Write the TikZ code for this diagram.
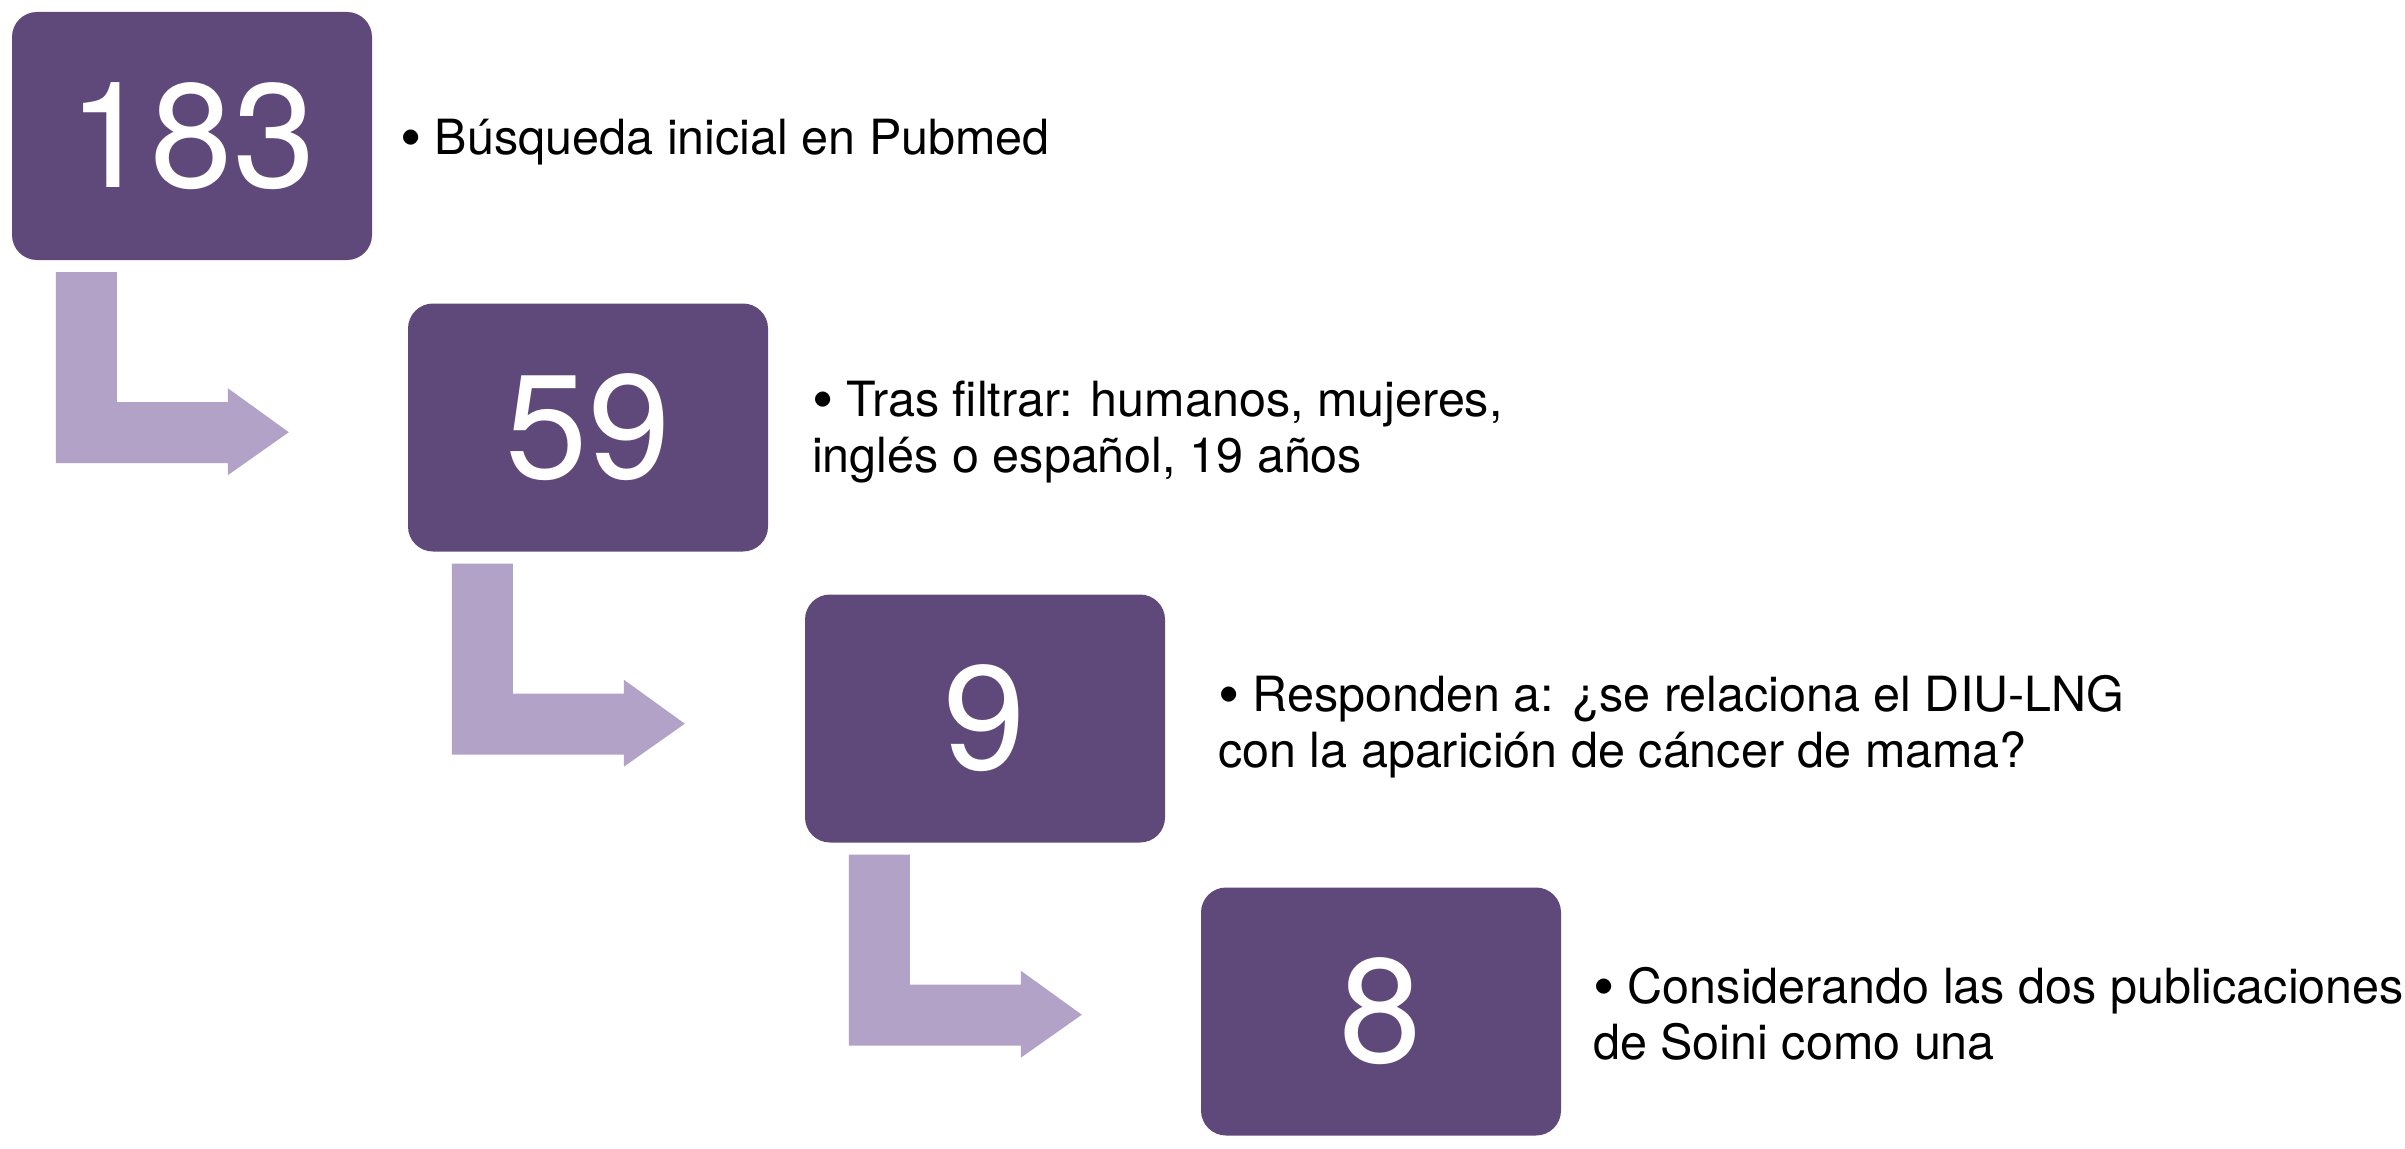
\documentclass[tikz,border=0pt]{standalone}
\usepackage{fontspec}
\usepackage{graphicx}
\setmainfont{TeX Gyre Heros}
\definecolor{boxpurple}{HTML}{5F497A}
\definecolor{arrowlilac}{HTML}{B2A2C7}
\newcommand\bigbul{\raisebox{-4pt}{\scalebox{1.25}{•}}}
\tikzset{
  numbox/.style={fill=boxpurple, rounded corners=25pt, minimum width=360pt, minimum height=248pt,
    inner sep=0pt, text=white, font=\fontsize{148}{150}\selectfont},
  txt/.style={anchor=base west, inner sep=0pt, text=black, font=\fontsize{48.5}{56}\selectfont},
  bentarrow/.pic={\fill[arrowlilac] (44,12) -- (105,12) -- (105,142) -- (216,142) -- (216,128)
      -- (277,172) -- (216,215) -- (216,203) -- (44,203) -- cycle;}
}
\begin{document}
\begin{tikzpicture}[x=1pt,y=-1pt]
\useasboundingbox (0,0) rectangle (2405,1148);
\node[numbox] (b1) at (192,136) {183};
\node[numbox] (b2) at (588,427.5) {59};
\node[numbox] (b3) at (985,718.5) {9};
\node[numbox] (b4) at (1381,1011.5) {8};
\pic at (b1.south west) {bentarrow};
\pic at (b2.south west) {bentarrow};
\pic at (b3.south west) {bentarrow};
\node[txt] (t1) at (400,154) {\bigbul{} Búsqueda inicial en Pubmed};
\node[txt] (t2) at (812,416.7) {\vtop{\hbox{\bigbul{} Tras filtrar: humanos, mujeres,}\hbox{inglés o español, 19 años}}};
\node[txt] (t3) at (1218,711) {\vtop{\hbox{\bigbul{} Responden a: ¿se relaciona el DIU-LNG}\hbox{con la aparición de cáncer de mama?}}};
\node[txt] (t4) at (1593,1003) {\vtop{\hbox{\bigbul{} Considerando las dos publicaciones}\hbox{de Soini como una}}};
\end{tikzpicture}
\end{document}
